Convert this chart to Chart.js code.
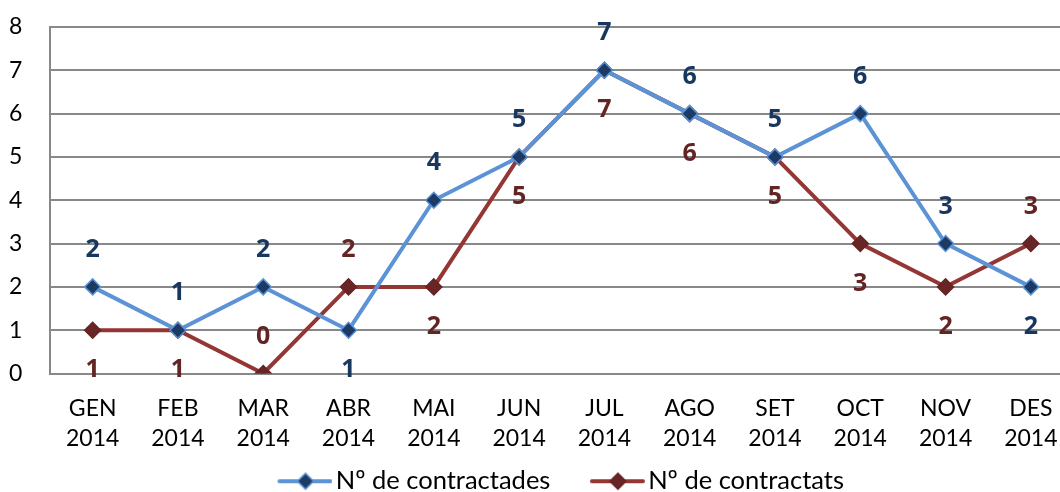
<!DOCTYPE html>
<html>
<head>
<meta charset="utf-8">
<script src="https://cdn.jsdelivr.net/npm/chart.js@4/dist/chart.umd.min.js"></script>
<style>
  html, body { margin: 0; padding: 0; background: #fff; overflow: hidden; }
  #wrap { width: 1060px; height: 492px; overflow: hidden; }
  #box { width: 1083px; height: 492px; }
</style>
</head>
<body>
<div id="wrap"><div id="box"><canvas id="chart"></canvas></div></div>
<script>
// chart data
const months = [
  ['GEN', '2014'], ['FEB', '2014'], ['MAR', '2014'], ['ABR', '2014'],
  ['MAI', '2014'], ['JUN', '2014'], ['JUL', '2014'], ['AGO', '2014'],
  ['SET', '2014'], ['OCT', '2014'], ['NOV', '2014'], ['DES', '2014']
];
const contractades = [2, 1, 2, 1, 4, 5, 7, 6, 5, 6, 3, 2];
const contractats = [1, 1, 0, 2, 2, 5, 7, 6, 5, 3, 2, 3];
const seriesNames = ['Nº de contractades', 'Nº de contractats'];
const yTicks = [0, 1, 2, 3, 4, 5, 6, 7, 8];

// where each value label sits ('a' = above the point, 'b' = below)
const labelSideBlue = ['a', 'a', 'a', 'b', 'a', 'a', 'a', 'a', 'a', 'a', 'a', 'b'];
const labelSideRed = ['b', 'b', 'a', 'a', 'b', 'b', 'b', 'b', 'b', 'b', 'b', 'a'];

const FONT = 'Lato, "Open Sans", sans-serif';
const blueLine = '#5b93d6';
const blueMark = '#1c3a64';
const redLine = '#943634';
const redMark = '#672525';

// legend swatch: line with diamond, drawn on the right part of the image
// so the legend keeps a wider gap between the two entries
function legendSwatch(lineColor, fill, border) {
  const c = document.createElement('canvas');
  c.width = 94;
  c.height = 20;
  const ctx = c.getContext('2d');
  ctx.strokeStyle = lineColor;
  ctx.lineWidth = 4;
  ctx.lineCap = 'round';
  ctx.beginPath();
  ctx.moveTo(41, 10);
  ctx.lineTo(92, 10);
  ctx.stroke();
  ctx.beginPath();
  ctx.moveTo(67, 2);
  ctx.lineTo(75, 10);
  ctx.lineTo(67, 18);
  ctx.lineTo(59, 10);
  ctx.closePath();
  ctx.fillStyle = fill;
  ctx.fill();
  ctx.strokeStyle = border;
  ctx.lineWidth = 1.5;
  ctx.stroke();
  return c;
}

const swatches = [
  legendSwatch(blueLine, blueMark, blueLine),
  legendSwatch(redLine, redMark, redMark)
];

// draws the numbers next to the points
const valueLabels = {
  id: 'valueLabels',
  afterDatasetsDraw(chart) {
    const ctx = chart.ctx;
    const sides = [labelSideBlue, labelSideRed];
    const colors = ['#17375e', '#632523'];
    ctx.save();
    ctx.font = 'bold 25px "Open Sans", sans-serif';
    ctx.textAlign = 'center';
    ctx.textBaseline = 'middle';
    chart.data.datasets.forEach((ds, i) => {
      const meta = chart.getDatasetMeta(i);
      ctx.fillStyle = colors[i];
      meta.data.forEach((pt, j) => {
        const dy = sides[i][j] === 'a' ? -37 : 40;
        ctx.fillText(String(ds.data[j]), pt.x, pt.y + dy);
      });
    });
    ctx.restore();
  }
};

const config = {
  type: 'line',
  data: {
    labels: months,
    datasets: [
      {
        label: seriesNames[0],
        data: contractades,
        borderColor: blueLine,
        borderWidth: 4,
        pointStyle: 'rectRot',
        pointRadius: 8,
        pointBackgroundColor: blueMark,
        pointBorderColor: blueLine,
        pointBorderWidth: 1.5,
        tension: 0,
      },
      {
        label: seriesNames[1],
        data: contractats,
        borderColor: redLine,
        borderWidth: 4,
        pointStyle: 'rectRot',
        pointRadius: 8,
        pointBackgroundColor: redMark,
        pointBorderColor: redMark,
        pointBorderWidth: 1.5,
        tension: 0,
      },
    ],
  },
  options: {
    responsive: true,
    maintainAspectRatio: false,
    animation: false,
    layout: { padding: { left: 9, right: 0, top: 27, bottom: -12 } },
    scales: {
      x: {
        offset: true,
        afterFit(axis) {
          axis.height = 85;
        },
        grid: { display: false, drawTicks: false },
        border: { display: true, color: '#888888', width: 2 },
        ticks: {
          color: '#000',
          font: { family: FONT, size: 23, lineHeight: 1.32 },
          padding: 20,
          maxRotation: 0,
          autoSkip: false,
        },
      },
      y: {
        min: 0,
        max: 8,
        afterBuildTicks(axis) {
          axis.ticks = yTicks.map(v => ({ value: v }));
        },
        afterFit(axis) {
          axis.width = 41;
        },
        grid: { color: '#888888', lineWidth: 2, drawTicks: false },
        border: { display: true, color: '#888888', width: 2 },
        ticks: {
          color: '#000',
          font: { family: FONT, size: 23 },
          padding: 4,
          crossAlign: 'far',
        },
      },
    },
    plugins: {
      legend: {
        position: 'bottom',
        labels: {
          usePointStyle: true,
          pointStyleWidth: 75,
          color: '#000',
          font: { family: FONT, size: 25.5 },
          padding: 10,
          generateLabels(chart) {
            return chart.data.datasets.map((ds, i) => ({
              text: ds.label,
              pointStyle: swatches[i],
              fillStyle: 'transparent',
              strokeStyle: 'transparent',
              lineWidth: 0,
              datasetIndex: i,
              fontColor: '#000',
            }));
          },
        },
      },
      tooltip: { enabled: false },
    },
  },
  plugins: [valueLabels],
};

const myChart = new Chart(document.getElementById('chart'), config);
</script>
</body>
</html>
